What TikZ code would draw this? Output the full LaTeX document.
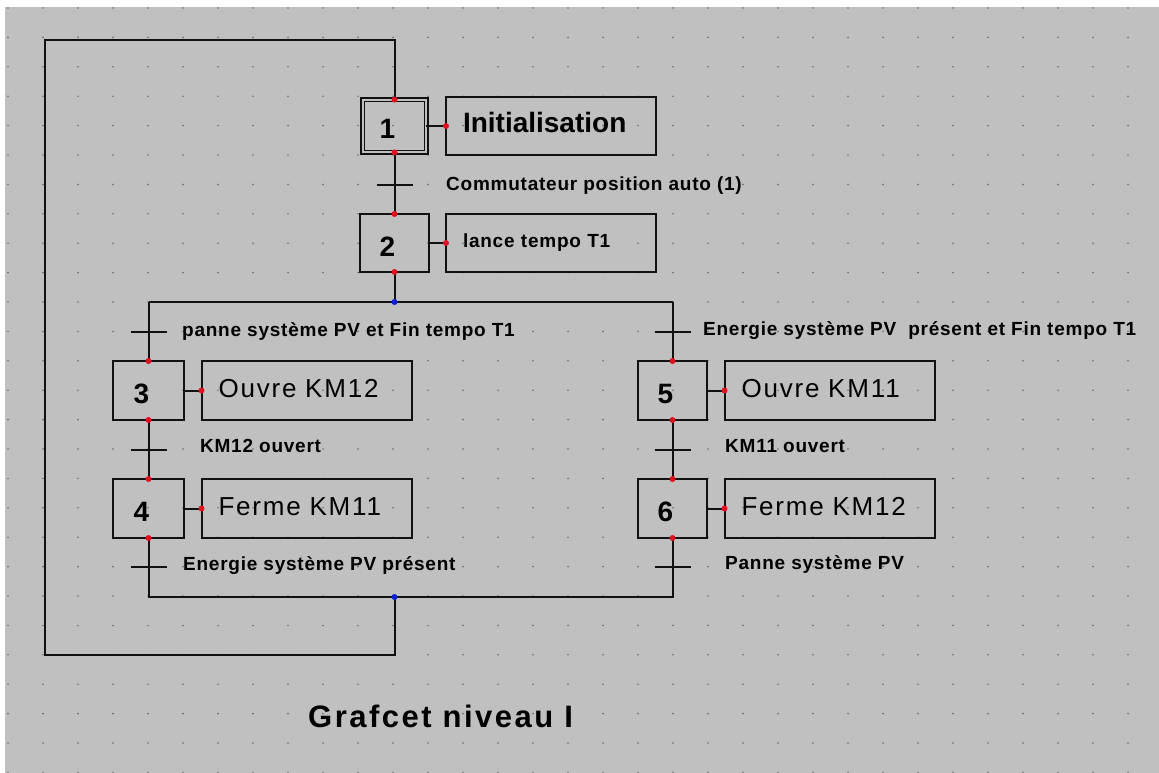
\documentclass[tikz,border=0pt]{standalone}
\usepackage{fontspec}
\setmainfont{Liberation Sans}
\newfontfamily\lblfont[LetterSpace=4]{Liberation Sans}
\newfontfamily\actfont[LetterSpace=7]{Liberation Sans}
\newfontfamily\ttlfont[LetterSpace=8]{Liberation Sans}
\definecolor{bg}{HTML}{C0C0C0}
\definecolor{ln}{HTML}{111111}
\definecolor{pin}{HTML}{E01020}
\definecolor{jn}{HTML}{1020D0}
\definecolor{gdot}{HTML}{707070}
\tikzset{
  wire/.style={draw=ln, line width=2pt},
  tbar/.style={draw=ln, line width=2pt},
  stepbox/.style={draw=ln, line width=2pt, inner sep=0pt, outer sep=0pt,
    minimum width=69pt, minimum height=58pt, text height=26pt, text depth=0pt,
    font=\fontsize{28}{30}\selectfont\bfseries},
  initstep/.style={stepbox, double=bg, double distance=2pt, line width=1.6pt,
    minimum width=63.8pt, minimum height=52.8pt},
  actbox/.style={draw=ln, line width=2pt, outer sep=0pt, minimum height=58pt,
    text width=176pt, inner xsep=17pt, inner ysep=0pt, align=left,
    text height=14pt, text depth=0pt},
  bigact/.style={font=\actfont\fontsize{26}{30}\selectfont},
  bigactb/.style={font=\fontsize{28}{32}\selectfont\bfseries},
  smallact/.style={font=\lblfont\fontsize{19}{22}\selectfont\bfseries, text height=9pt},
  tlabel/.style={anchor=base west, inner sep=0pt, font=\lblfont\fontsize{19}{22}\selectfont\bfseries},
  ttl/.style={anchor=base west, inner sep=0pt, font=\ttlfont\fontsize{31}{34}\selectfont\bfseries},
  pindot/.style={fill=pin},
  jdot/.style={fill=jn}
}
\begin{document}
\begin{tikzpicture}[x=1pt,y=-1pt]
\useasboundingbox (0,0) rectangle (1159,773);
\fill[white] (0,0) rectangle (1159,773);
\fill[bg] (5,7) rectangle (1159,773);
% grid dots
\foreach \i in {0,...,32}{
  \foreach \j in {0,...,26}{
    \fill[gdot] ({8+35*\i},{8+29.4*\j}) circle (0.9pt);
  }
}
% coordinates
\coordinate (top) at (394.5,40);
\coordinate (tl) at (45,40);
\coordinate (bl) at (45,655);
\coordinate (bot) at (394.5,655);
\coordinate (ja) at (394.5,302);
\coordinate (jb) at (394.5,597);
\coordinate (dl) at (148.5,302);
\coordinate (dr) at (672.5,302);
\coordinate (cl) at (148.5,597);
\coordinate (cr) at (672.5,597);
\coordinate (t1) at (394.5,185);
\coordinate (t3) at (148.5,332);
\coordinate (t5) at (672.5,332);
\coordinate (t4) at (148.5,450);
\coordinate (t6) at (672.5,450);
\coordinate (t7) at (148.5,567);
\coordinate (t8) at (672.5,567);
% steps
\node[initstep] (s1) at (394.5,126) {1\hspace*{14pt}};
\node[stepbox] (s2) at (394.5,243) {2\hspace*{14pt}};
\node[stepbox, minimum width=71pt, minimum height=59pt] (s3) at (148.5,390.5) {3\hspace*{14pt}};
\node[stepbox, minimum width=71pt, minimum height=59pt] (s4) at (148.5,508.5) {4\hspace*{14pt}};
\node[stepbox, minimum height=59pt] (s5) at (672.5,390.5) {5\hspace*{14pt}};
\node[stepbox, minimum height=59pt] (s6) at (672.5,508.5) {6\hspace*{14pt}};
% actions
\node[actbox, bigactb] (a1) at (551,126) {Initialisation};
\node[actbox, smallact] (a2) at (551,243) {lance tempo T1};
\node[actbox, bigact, minimum height=59pt] (a3) at (306.5,390.5) {Ouvre KM12};
\node[actbox, bigact, minimum height=59pt] (a4) at (306.5,508.5) {Ferme KM11};
\node[actbox, bigact, minimum height=59pt] (a5) at (829.5,390.5) {Ouvre KM11};
\node[actbox, bigact, minimum height=59pt] (a6) at (829.5,508.5) {Ferme KM12};
% links
\draw[wire] (s1.north) -- (top) -- (tl) -- (bl) -- (bot) -- (jb);
\draw[wire] (s1.south) -- (s2.north);
\draw[wire] (s2.south) -- (ja);
\draw[wire] (dl) -- (dr);
\draw[wire] (dl) -- (s3.north);
\draw[wire] (dr) -- (s5.north);
\draw[wire] (s3.south) -- (s4.north);
\draw[wire] (s5.south) -- (s6.north);
\draw[wire] (s4.south) -- (cl) -- (cr) -- (s6.south);
\draw[wire] (s1.east) -- (a1.west);
\draw[wire] (s2.east) -- (a2.west);
\draw[wire] (s3.east) -- (a3.west);
\draw[wire] (s4.east) -- (a4.west);
\draw[wire] (s5.east) -- (a5.west);
\draw[wire] (s6.east) -- (a6.west);
% transitions
\foreach \t in {t1,t3,t5,t4,t6,t7,t8}{
  \draw[tbar] (\t) +(-18,0) -- +(18,0);
}
% transition labels
\node[tlabel] (l1) at (446,190) {Commutateur position auto (1)};
\node[tlabel] (l2) at (182,336) {panne système PV et Fin tempo T1};
\node[tlabel] (l3) at (703,335) {Energie système PV\hspace{6pt} présent et Fin tempo T1};
\node[tlabel] (l4) at (200,452) {KM12 ouvert};
\node[tlabel] (l5) at (725,452) {KM11 ouvert};
\node[tlabel] (l6) at (183,570) {Energie système PV présent};
\node[tlabel] (l7) at (725,569) {Panne système PV};
\node[ttl] (title) at (308,727) {Grafcet niveau I};
% connection dots
\foreach \n in {s1,s2,s3,s4,s5,s6}{
  \fill[pindot] (\n.north) circle (3pt);
  \fill[pindot] (\n.south) circle (3pt);
}
\foreach \n in {a1,a2,a3,a4,a5,a6}{
  \fill[pindot] (\n.west) circle (3pt);
}
\fill[jdot] (ja) circle (3pt);
\fill[jdot] (jb) circle (3pt);
\end{tikzpicture}
\end{document}
